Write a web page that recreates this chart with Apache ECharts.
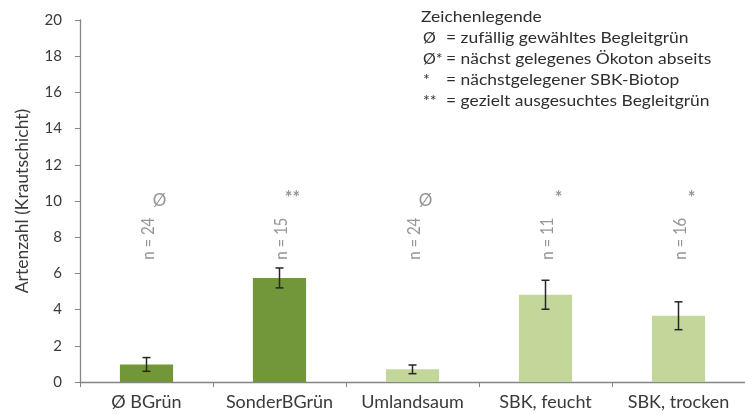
<!DOCTYPE html>
<html>
<head>
<meta charset="utf-8">
<script src="https://cdn.jsdelivr.net/npm/echarts@6/dist/echarts.min.js"></script>
<style>
  html, body { margin: 0; padding: 0; background: #fff; }
  #chart { width: 745px; height: 414px; }
</style>
</head>
<body>
<div id="chart"></div>
<script>
// Artenzahl der Krautschicht je Standorttyp (Mittelwert ± Fehler)
const categories = ['Ø BGrün', 'SonderBGrün', 'Umlandsaum', 'SBK, feucht', 'SBK, trocken'];
const means      = [0.97, 5.75, 0.70, 4.82, 3.66];
const errors     = [0.38, 0.55, 0.24, 0.80, 0.77];
const sampleSize = [24, 15, 24, 11, 16];
const sampleMark = ['Ø', '**', 'Ø', '*', '*'];
const yTicks     = [0, 2, 4, 6, 8, 10, 12, 14, 16, 18, 20];

const legendTitle = 'Zeichenlegende';
const legendSymbols = ['Ø', 'Ø*', '*', '**'];
const legendTexts = [
  '= zufällig gewähltes Begleitgrün',
  '= nächst gelegenes Ökoton abseits',
  '= nächstgelegener SBK-Biotop',
  '= gezielt ausgesuchtes Begleitgrün'
];

const DARK = '#72973a';
const LIGHT = '#c3d79b';
const barColors = [DARK, DARK, LIGHT, LIGHT, LIGHT];
const FONT = 'Lato, "Open Sans", sans-serif';
const TEXT_WIDE = 1.09;   // horizontal stretch of the legend lettering

// Heights (in axis units) where the n-labels start and where their marks sit
const N_LABEL_BASE = 6.75;
const N_MARK_LEVEL = 10.1;

const chart = echarts.init(document.getElementById('chart'), null, { renderer: 'canvas' });

const errorData = means.map((m, i) => [i, m - errors[i], m + errors[i]]);

function legendText(x, y, text, stretch) {
  return {
    type: 'text', x: x, y: y, scaleX: stretch,
    style: { text: text, font: '16px ' + FONT, fill: '#2e2e2e', align: 'left', verticalAlign: 'middle' }
  };
}
const legendGraphics = [legendText(421, 17, legendTitle, TEXT_WIDE)];
legendSymbols.forEach((s, i) => {
  legendGraphics.push(legendText(423, 38 + i * 20.8, s, 1));
  legendGraphics.push(legendText(446, 38 + i * 20.8, legendTexts[i], TEXT_WIDE));
});

chart.setOption({
  animation: false,
  backgroundColor: '#fff',
  grid: { left: 80, right: -5, top: 20, bottom: 32, containLabel: false },
  xAxis: {
    type: 'category',
    data: categories,
    axisLine: { lineStyle: { color: '#858585', width: 1.3 } },
    axisTick: { show: true, length: 5, lineStyle: { color: '#858585' } },
    axisLabel: {
      color: '#3a3a3a', fontSize: 18, fontFamily: FONT, margin: 11,
      interval: 0, hideOverlap: false
    }
  },
  yAxis: {
    type: 'value',
    min: yTicks[0], max: yTicks[yTicks.length - 1], interval: 2,
    name: 'Artenzahl (Krautschicht)',
    nameLocation: 'middle',
    nameGap: 49,
    nameTextStyle: { color: '#3a3a3a', fontSize: 17.5, fontFamily: FONT },
    splitLine: { show: false },
    axisLine: { show: true, lineStyle: { color: '#858585', width: 1.3 } },
    axisTick: { show: true, length: 5, lineStyle: { color: '#858585' } },
    axisLabel: { color: '#3a3a3a', fontSize: 15, fontFamily: FONT, margin: 18 }
  },
  graphic: legendGraphics,
  series: [
    {
      type: 'bar',
      data: means.map((v, i) => ({ value: v, itemStyle: { color: barColors[i] } })),
      barWidth: '40%'
    },
    {
      type: 'custom',
      data: errorData,
      encode: { x: 0, y: [1, 2] },
      z: 5,
      renderItem(params, api) {
        const lo = api.coord([api.value(0), api.value(1)]);
        const hi = api.coord([api.value(0), api.value(2)]);
        const half = 4;
        const st = { stroke: '#262626', lineWidth: 1.5 };
        return {
          type: 'group',
          children: [
            { type: 'line', shape: { x1: lo[0], y1: lo[1], x2: hi[0], y2: hi[1] }, style: st },
            { type: 'line', shape: { x1: lo[0] - half, y1: lo[1], x2: lo[0] + half, y2: lo[1] }, style: st },
            { type: 'line', shape: { x1: hi[0] - half, y1: hi[1], x2: hi[0] + half, y2: hi[1] }, style: st }
          ]
        };
      }
    },
    {
      type: 'custom',
      data: sampleSize,
      z: 6,
      renderItem(params, api) {
        const i = params.dataIndex;
        const base = api.coord([i, N_LABEL_BASE]);
        const mark = api.coord([i, N_MARK_LEVEL]);
        const isStar = sampleMark[i].indexOf('*') >= 0;
        return {
          type: 'group',
          children: [
            {
              type: 'text', x: base[0] + 1.5, y: base[1], rotation: Math.PI / 2, scaleY: 1.15,
              style: {
                text: 'n = ' + sampleSize[i],
                font: '15px ' + FONT, fill: '#959595',
                align: 'left', verticalAlign: 'middle'
              }
            },
            {
              type: 'text', x: base[0] + 13, y: mark[1] + (isStar ? -1 : 1),
              style: {
                text: sampleMark[i],
                font: (isStar ? 'bold 18px ' : '17px ') + FONT, fill: '#959595',
                align: 'center', verticalAlign: 'middle'
              }
            }
          ]
        };
      }
    }
  ]
});
</script>
</body>
</html>
